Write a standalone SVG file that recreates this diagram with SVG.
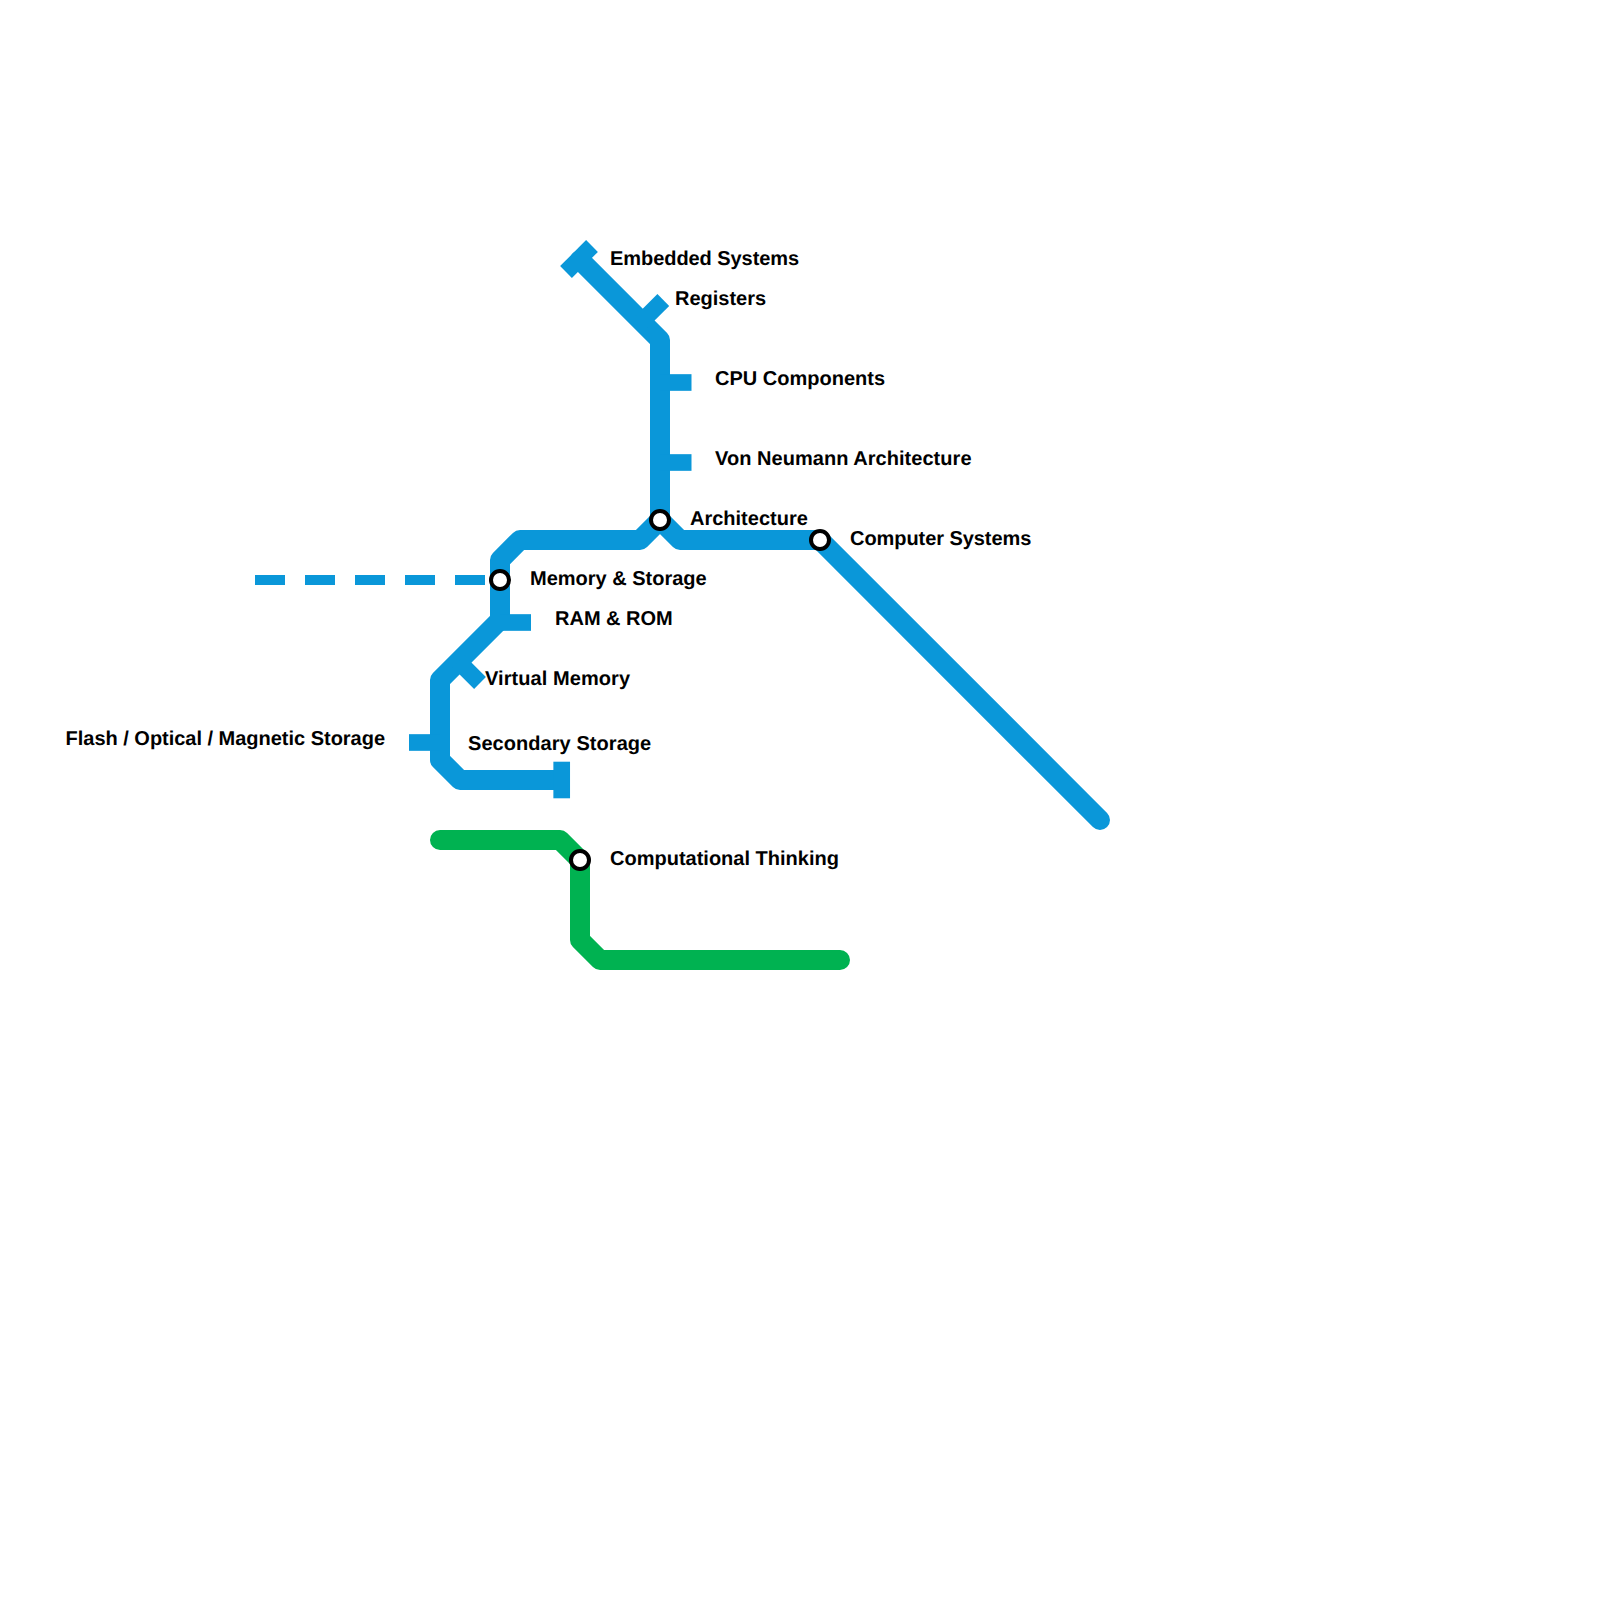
<svg xmlns="http://www.w3.org/2000/svg" width="1600" height="1600" viewBox="0 0 1600 1600">
<style>
.line{fill:none;stroke-width:20;stroke-linecap:round;stroke-linejoin:round}
.blue{stroke:#0a97d9}
.green{stroke:#00b251}
.tick{fill:none;stroke:#0a97d9;stroke-width:16.67}
.dash{fill:none;stroke:#0a97d9;stroke-width:10;stroke-dasharray:30 20}
.st{fill:#fff;stroke:#000;stroke-width:4}
text{font-family:"Liberation Sans",Arial,sans-serif;font-weight:700;font-size:20px;fill:#000;text-rendering:geometricPrecision}
</style>
<rect width="1600" height="1600" fill="#fff"/>
<g id="connectors">
<path class="dash" d="M255 580H485"/>
<path class="line blue" d="M1100 820L820 540H680L660 520L640 540H520L500 560V620L440 680V760L460 780H560"/>
<path class="line blue" d="M660 520V340L580 260"/>
<path class="line green" d="M440 840H560L580 860V940L600 960H840"/>
<path class="tick" d="M660 382.500H691.500"/>
<path class="tick" d="M660 462.500H691.500"/>
<path class="tick" d="M500 622.500H531"/>
<path class="tick" d="M440 742.500H409"/>
<path class="tick" d="M561.700 761.700V798.300"/>
<path class="tick" d="M663.300 300L641.650 321.650"/>
<path class="tick" d="M592 246L566 272"/>
<path class="tick" d="M458.500 661.500L480 683"/>
</g>
<g id="node-computer-systems"><circle class="st" cx="820" cy="540" r="9"/><text x="850" y="545" letter-spacing="-.06">Computer Systems</text></g>
<g id="node-architecture"><circle class="st" cx="660" cy="520" r="9"/><text x="690" y="525">Architecture</text></g>
<g id="node-memory-storage"><circle class="st" cx="500" cy="580" r="9"/><text x="530" y="585">Memory &amp; Storage</text></g>
<g id="node-computational-thinking"><circle class="st" cx="580" cy="860" r="9"/><text x="610" y="865">Computational Thinking</text></g>
<g id="node-embedded"><text x="610" y="265" letter-spacing="-.06">Embedded Systems</text></g>
<g id="node-registers"><text x="675" y="305">Registers</text></g>
<g id="node-cpu"><text x="715" y="385">CPU Components</text></g>
<g id="node-von-neumann"><text x="715" y="465" letter-spacing=".04">Von Neumann Architecture</text></g>
<g id="node-ram-rom"><text x="555" y="625">RAM &amp; ROM</text></g>
<g id="node-virtual-memory"><text x="485" y="685" letter-spacing=".07">Virtual Memory</text></g>
<g id="node-flash"><text x="385" y="745" text-anchor="end" letter-spacing="-.02">Flash / Optical / Magnetic Storage</text></g>
<g id="node-secondary"><text x="468" y="750" letter-spacing=".06">Secondary Storage</text></g>
</svg>
